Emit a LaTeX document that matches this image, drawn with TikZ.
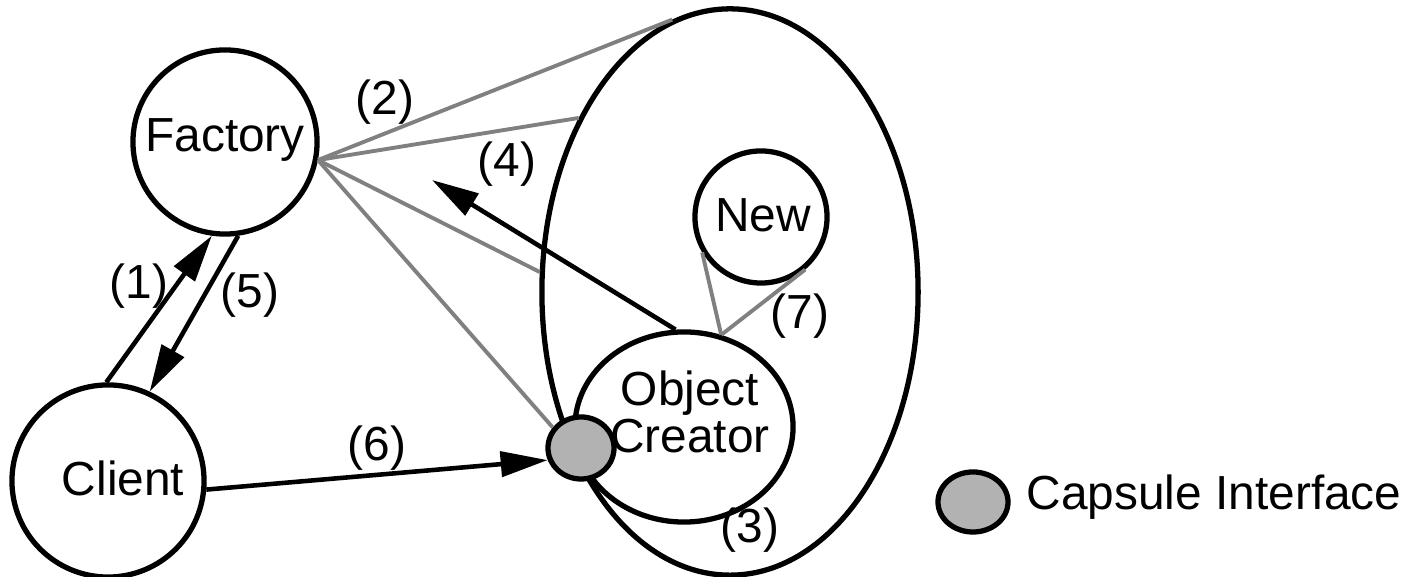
\documentclass[tikz,border=0pt]{standalone}
\usepackage{fontspec}
\setmainfont{Liberation Sans}
\usetikzlibrary{shapes.geometric,arrows.meta}
\definecolor{linkgray}{RGB}{128,128,128}
\definecolor{capgray}{RGB}{178,178,178}
\begin{document}
\begin{tikzpicture}[x=0.01cm,y=-0.01cm,
  txt/.style={font=\fontsize{13.6}{12.2}\selectfont, inner sep=0pt},
  circ/.style={draw, line width=1.5pt, circle, inner sep=0pt, minimum size=#1},
  ovalbox/.style n args={2}{draw, line width=1.5pt, ellipse, inner sep=0pt, minimum width=#1, minimum height=#2},
  iface/.style={ovalbox={0.66cm}{0.62cm}, fill=capgray},
  arr/.style={line width=1.3pt, -{Triangle[length=0.47cm,width=0.25cm]}},
  link/.style={draw=linkgray, line width=1.1pt}]
\useasboundingbox (0,0) rectangle (1409,577);

% shapes
\node[ovalbox={3.76cm}{5.66cm}] (capsule) at (730,292) {};
\node[circ=1.84cm] (factory) at (225,142) {};
\node[circ=1.92cm] (client) at (108,481) {};
\node[circ=1.32cm] (new) at (761,217) {};
\node[ovalbox={2.18cm}{1.90cm}] (creator) at (684,427) {};

% gray links
\draw[link] (factory.-11) -- (capsule.102.2);
\draw[link] (factory.-11) -- (capsule.131.2);
\draw[link] (factory.-11) -- (capsule.174.7);
\node[iface] (port) at (581,448) {};
\draw[link] (factory.-11) -- (port.144);
\draw[link] (creator.68) -- (new.211);
\draw[link] (creator.68) -- (new.-50);

% arrows
\coordinate (tip4) at (432,180);
\draw[arr] (client.91) -- (factory.-98);
\draw[arr] (factory.-82.5) -- (client.65);
\draw[arr] (creator.95) -- (tip4);
\draw[arr] (client.-5) -- (port.200);

% texts
\node[txt] (factorytext) at (225,140) {Factory};
\node[txt] (clienttext) at (123,478) {Client};
\node[txt] (newtext) at (763,215) {New};
\node[txt, align=center] (creatortext) at (690,412) {Object\\Creator};

\node[txt] (l1) at (139,286) {(1)};
\node[txt] (l2) at (385,102) {(2)};
\node[txt] (l3) at (750,530) {(3)};
\node[txt] (l4) at (507,164) {(4)};
\node[txt] (l5) at (250,295) {(5)};
\node[txt] (l6) at (377,448) {(6)};
\node[txt] (l7) at (800,316) {(7)};

% legend
\node[iface, minimum width=0.70cm, minimum height=0.60cm] (legendport) at (973,502) {};
\node[txt, anchor=west] (legendtext) at (1026,497) {Capsule Interface};
\end{tikzpicture}
\end{document}
